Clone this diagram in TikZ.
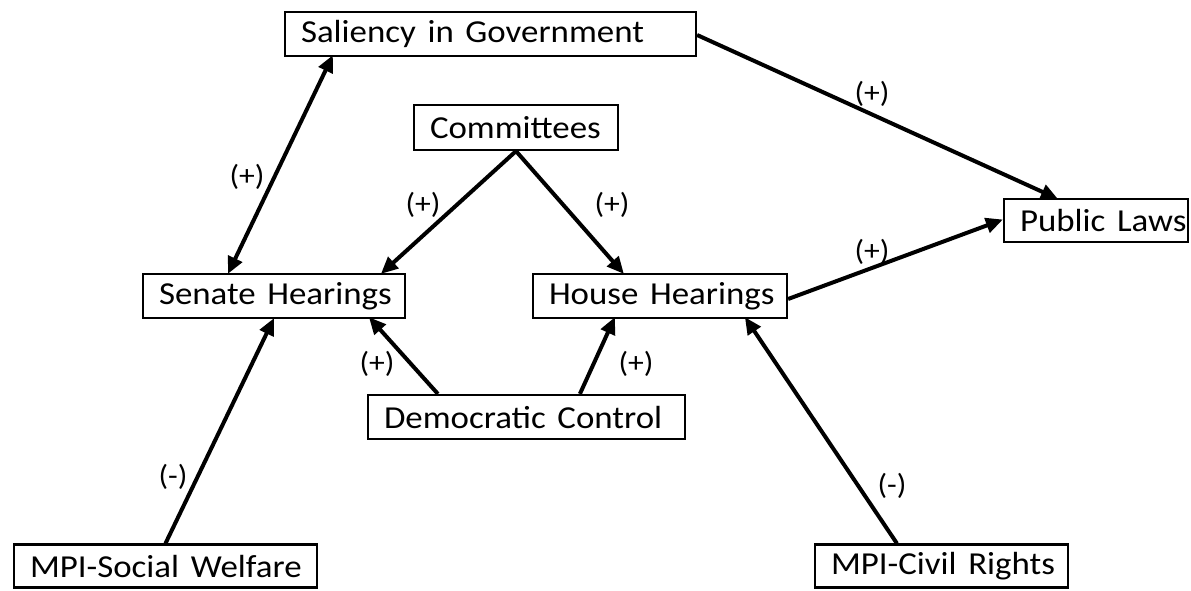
\documentclass[tikz,border=0pt]{standalone}
\usepackage{fontspec}
\setmainfont{Carlito}
\usetikzlibrary{arrows.meta}
\newcommand{\bx}[1]{\scalebox{1.09}[1]{#1}}
\tikzset{
  box/.style={draw=black, line width=2.2pt, inner xsep=16pt, inner ysep=0pt,
    align=left, font=\fontsize{32}{36}\selectfont, anchor=center},
  lab/.style={font=\fontsize{29}{32}\selectfont, inner sep=0pt},
  tip/.style={Triangle[length=17pt,width=15pt]},
  link/.style={line width=4pt, -{Triangle[length=17pt,width=15pt]}},
  link2/.style={line width=4pt, {Triangle[length=17pt,width=15pt]}-{Triangle[length=17pt,width=15pt]}}
}
\begin{document}
\begin{tikzpicture}[x=1pt,y=-1pt]
\useasboundingbox (0,0) rectangle (1191,590);
% boxes: center, width, height
\node[box, text width=379pt, minimum height=44pt] (sal) at (490.5,34) {\bx{Saliency in Government}};
\node[box, text width=172pt, minimum height=45pt] (com) at (516,127.5) {\bx{Committees}};
\node[box, text width=230pt, minimum height=44pt] (sen) at (274,296) {\bx{Senate Hearings}};
\node[box, text width=222pt, minimum height=44pt] (hou) at (660,296) {\bx{House Hearings}};
\node[box, text width=152pt, minimum height=43pt] (pub) at (1096,220.5) {\bx{Public Laws}};
\node[box, text width=285pt, minimum height=44pt] (dem) at (526.5,417) {\bx{Democratic Control}};
\node[box, text width=271pt, minimum height=43pt] (msw) at (165.5,566) {\bx{MPI-Social Welfare}};
\node[box, text width=221pt, minimum height=43pt] (mcr) at (941.5,566) {\bx{MPI-Civil Rights}};
% connectors
\draw[link2] ([xshift=86pt,yshift=-1pt]sen.north west) -- ([xshift=49pt,yshift=2pt]sal.south west);
\draw[link] (com.south) -- ([xshift=239pt,yshift=-1pt]sen.north west);
\draw[link] (com.south) -- ([xshift=92pt,yshift=-1pt]hou.north west);
\draw[link] ([yshift=-1pt]sal.east) -- ([xshift=55pt,yshift=-1pt]pub.north west);
\draw[link] ([yshift=-3pt]hou.east) -- ([yshift=1pt]pub.west);
\draw[link] (msw.north) -- ([yshift=1pt]sen.south);
\draw[link] ([xshift=71pt]dem.north west) -- ([xshift=227pt,yshift=2pt]sen.south west);
\draw[link] ([xshift=213pt]dem.north west) -- ([xshift=83pt,yshift=2pt]hou.south west);
\draw[link] ([xshift=83pt]mcr.north west) -- ([xshift=213pt,yshift=2pt]hou.south west);
% labels
\node[lab] (l1) at (247,177) {\bx{(+)}};
\node[lab] (l2) at (423,205) {\bx{(+)}};
\node[lab] (l3) at (612,205) {\bx{(+)}};
\node[lab] (l4) at (872,94) {\bx{(+)}};
\node[lab] (l5) at (872,252) {\bx{(+)}};
\node[lab] (l6) at (377,364) {\bx{(+)}};
\node[lab] (l7) at (636,364) {\bx{(+)}};
\node[lab] (l8) at (173,477) {\bx{(-)}};
\node[lab] (l9) at (892,486) {\bx{(-)}};
\end{tikzpicture}
\end{document}
